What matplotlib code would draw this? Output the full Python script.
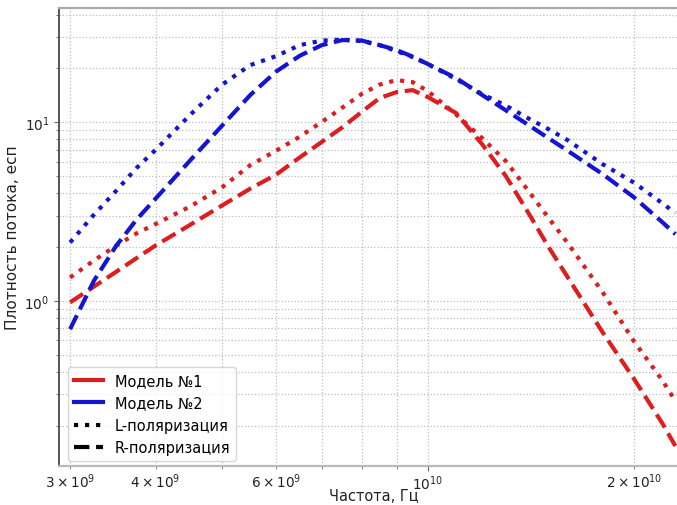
import numpy as np
import matplotlib
matplotlib.use("Agg")
import matplotlib.pyplot as plt
from matplotlib.lines import Line2D

# Frequencies, GHz
freq_ghz = [3.0, 3.25, 3.5, 3.75, 4.0, 4.5, 5.0, 5.5, 6.0, 6.5, 7.0, 7.5, 8.0, 8.5,
            9.0, 9.5, 10.0, 11.0, 12.0, 13.0, 14.0, 15.0, 16.0, 18.0, 20.0, 22.0, 23.0]

# Model 1 (red)
m1_L = [1.35, 1.68, 2.03, 2.38, 2.69, 3.38, 4.31, 5.74, 6.91, 8.29, 10.03, 12.05, 14.35, 16.21,
        17.18, 16.74, 14.91, 11.02, 8.14, 6.05, 4.16, 2.92, 2.11, 1.12, 0.595, 0.360, 0.275]
m1_R = [0.98, 1.20, 1.45, 1.73, 2.04, 2.67, 3.41, 4.24, 5.08, 6.35, 7.75, 9.35, 11.39, 13.62,
        14.72, 15.10, 13.80, 11.23, 7.53, 4.99, 3.14, 2.01, 1.36, 0.668, 0.367, 0.207, 0.154]
# Model 2 (blue)
m2_L = [2.12, 3.03, 4.11, 5.53, 6.99, 11.04, 16.17, 20.84, 23.4, 26.97, 28.58, 28.95, 28.4, 26.97,
        24.96, 23.1, 21.12, 17.4, 14.35, 12.37, 10.53, 9.14, 7.93, 5.82, 4.59, 3.52, 3.10]
m2_R = [0.694, 1.294, 2.02, 2.84, 3.73, 6.14, 9.53, 14.16, 19.17, 23.53, 26.97, 28.77, 28.6, 26.97,
        25.3, 23.26, 21.12, 17.63, 14.2, 11.64, 9.68, 8.14, 6.92, 5.12, 3.80, 2.76, 2.36]

legend_labels = ["Модель №1", "Модель №2", "L-поляризация", "R-поляризация"]

RED = "#dc1e1e"
BLUE = "#1414d2"

f = np.array(freq_ghz) * 1e9

fig = plt.figure(figsize=(6.77, 5.06), dpi=100)
ax_w_px = 688 - 59
ax_h_px = 467 - 9
ax = fig.add_axes([59 / 677, 39 / 506, ax_w_px / 677, ax_h_px / 506])

lw = 3.0
ax.plot(f, m1_L, color=RED, lw=lw, ls=":")
ax.plot(f, m1_R, color=RED, lw=lw, ls="--")
ax.plot(f, m2_L, color=BLUE, lw=lw, ls=":")
ax.plot(f, m2_R, color=BLUE, lw=lw, ls="--")

ax.set_xscale("log")
ax.set_yscale("log")
ax.set_xlim(2.89e9, 2.40e10)
ax.set_ylim(0.119, 43.5)

ax.grid(True, which="both", ls=":", color="#bdbdbd", lw=0.9)

ax.spines["right"].set_visible(False)
ax.spines["left"].set_color("#555555")
ax.spines["left"].set_linewidth(1.4)
ax.spines["bottom"].set_color("#b8b8b8")
ax.spines["bottom"].set_linewidth(1.6)
ax.spines["top"].set_color("#aaaaaa")
ax.spines["top"].set_linewidth(1.6)
ax.tick_params(which="both", colors="#666666", labelcolor="#222222", labelsize=9.8)
ax.tick_params(axis="x", which="both", pad=1.5)
ax.tick_params(which="major", length=3.5)
ax.tick_params(which="minor", length=2.5)

ax.set_xlabel("Частота, Гц", fontsize=10.5, color="#222222")
ax.xaxis.set_label_coords(0.5, -(489 - 467) / ax_h_px)
ax.set_ylabel("Плотность потока, есп", fontsize=11, color="#222222", labelpad=3)

handles = [
    Line2D([], [], color=RED, lw=lw),
    Line2D([], [], color=BLUE, lw=lw),
    Line2D([], [], color="black", lw=lw, ls=":"),
    Line2D([], [], color="black", lw=lw, ls="--"),
]
ax.legend(handles, legend_labels, loc="lower left", fontsize=10.5,
          bbox_to_anchor=(9 / ax_w_px, 5 / ax_h_px), borderaxespad=0)

fig.savefig("out.png", dpi=100)
